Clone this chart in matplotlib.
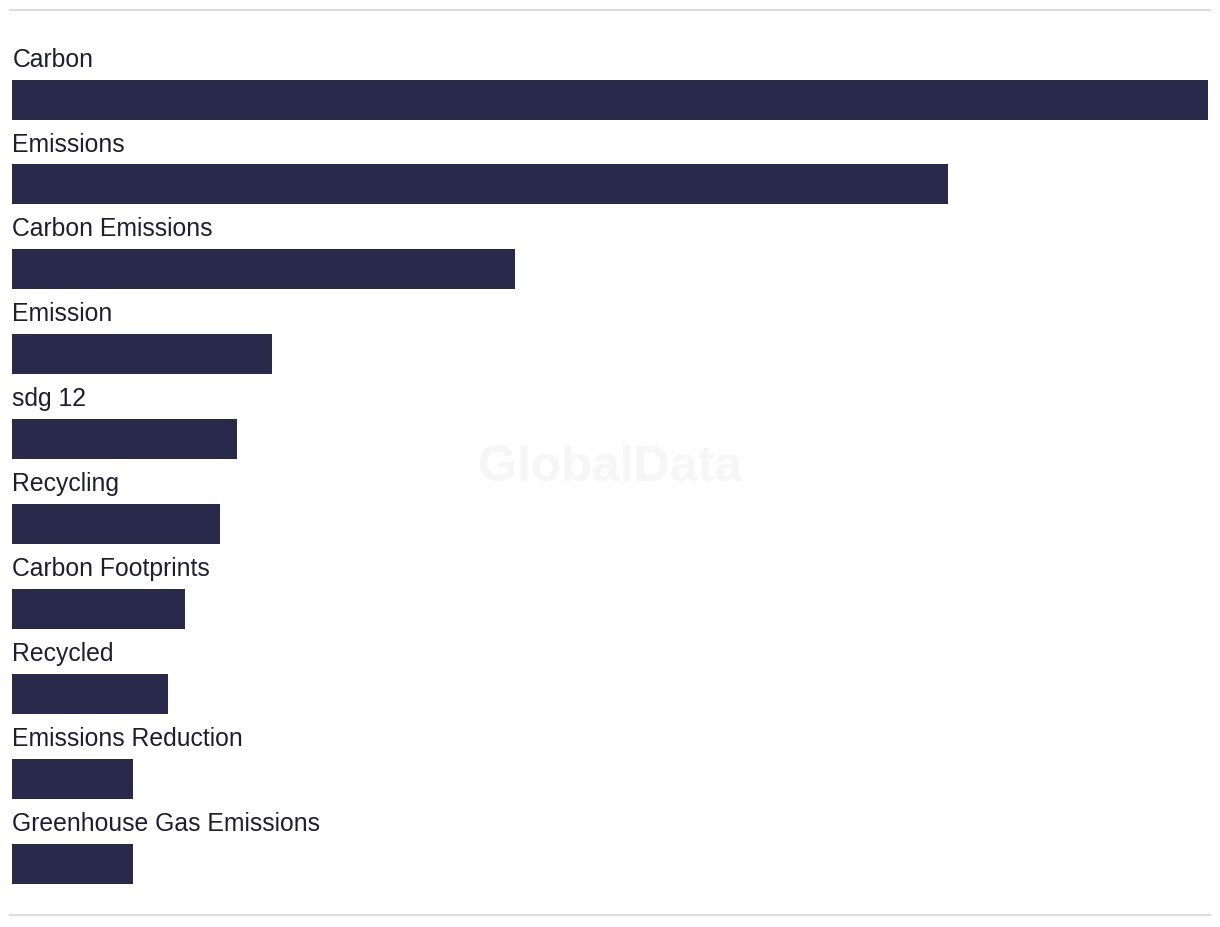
import matplotlib
matplotlib.use("Agg")
import matplotlib.pyplot as plt
from matplotlib.lines import Line2D

categories = ["Carbon", "Emissions", "Carbon Emissions", "Emission", "sdg 12",
              "Recycling", "Carbon Footprints", "Recycled", "Emissions Reduction",
              "Greenhouse Gas Emissions"]
values = [69, 54, 29, 15, 13, 12, 10, 9, 7, 7]

W, H = 1220, 928
fig = plt.figure(figsize=(W / 100, H / 100), dpi=100)
fig.patch.set_facecolor("white")

step = (864 - 100) / 9
top = 100.6 - 0.5 * step
bottom = 864.6 + 0.5 * step
ax = fig.add_axes([12 / W, 1 - bottom / H, (1208 - 12) / W, (bottom - top) / H])
ax.set_facecolor("none")

ys = list(range(len(categories)))
ax.barh(ys, values, height=40 / step, color="#29294B", left=0)
ax.set_xlim(0, max(values))
ax.set_ylim(len(categories) - 0.5, -0.5)
for i, c in enumerate(categories):
    ax.text(0.02, i - 0.40, c, ha="left", va="baseline", fontsize=17.8,
            color="#1E1E30", family=["Liberation Sans", "DejaVu Sans"])
ax.axis("off")

fig.text(610 / W, 1 - 468 / H, "GlobalData", ha="center", va="center",
         fontsize=36, fontweight="bold", color="#F6F6F6",
         family=["Liberation Sans", "DejaVu Sans"], zorder=0)

for yp in (11, 916):
    fig.add_artist(Line2D([10 / W, 1210 / W], [1 - yp / H, 1 - yp / H],
                          color="#DDDDDD", lw=1.5, transform=fig.transFigure))

fig.savefig("out.png", dpi=100, facecolor="white")
